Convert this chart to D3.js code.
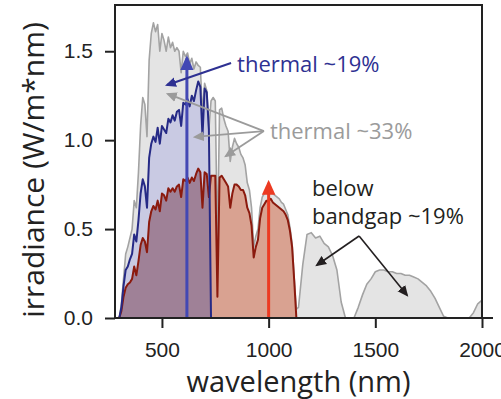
<!DOCTYPE html>
<html lang="en">
<head>
  <meta charset="UTF-8">
  <title>Solar spectrum - thermalisation and sub-bandgap losses</title>
  <script src="https://d3js.org/d3.v7.min.js"></script>
  <style>
    body {
      margin: 0;
      background: #fff;
    }
    svg {
      display: block;
      font-family: "Open Sans", sans-serif;
    }
    .tick text {
      font-size: 21px;
      fill: #222;
    }
    .tick line {
      stroke: #222;
      stroke-width: 2;
    }
    .axis-title {
      fill: #222;
    }
    .note {
      font-size: 22px;
    }
  </style>
</head>
<body>
  <script>
    // wavelength grid (nm): 10 nm steps up to 1140, 20 nm steps after
    const wavelength = [
      300, 310, 320, 330, 340, 350, 360, 370, 380, 390,
      400, 410, 420, 430, 440, 450, 460, 470, 480, 490,
      500, 510, 520, 530, 540, 550, 560, 570, 580, 590,
      600, 610, 620, 630, 640, 650, 660, 670, 680, 690,
      700, 710, 720, 730, 740, 750, 760, 770, 780, 790,
      800, 810, 820, 830, 840, 850, 860, 870, 880, 890,
      900, 910, 920, 930, 940, 950, 960, 970, 980, 990,
      1000, 1010, 1020, 1030, 1040, 1050, 1060, 1070, 1080, 1090,
      1100, 1110, 1120, 1130, 1140,
      1160, 1180, 1200, 1220, 1240, 1260, 1280, 1300, 1320, 1340,
      1360, 1380, 1400, 1420, 1440, 1460, 1480, 1500, 1520, 1540,
      1560, 1580, 1600, 1620, 1640, 1660, 1680, 1700, 1720, 1740,
      1760, 1780, 1800, 1820, 1840, 1860, 1880, 1900, 1920, 1940,
      1960, 1980, 2000
    ];

    // full solar irradiance (gray)
    const solar = [
      0.00, 0.08, 0.22, 0.36, 0.40, 0.45, 0.50, 0.66, 0.62, 0.82,
      1.08, 1.24, 1.20, 1.02, 1.45, 1.60, 1.66, 1.61, 1.65, 1.50,
      1.60, 1.56, 1.50, 1.58, 1.52, 1.55, 1.50, 1.52, 1.50, 1.38,
      1.50, 1.47, 1.49, 1.43, 1.46, 1.40, 1.44, 1.42, 1.41, 1.15,
      1.32, 1.28, 1.06, 1.22, 1.24, 1.22, 0.42, 1.17, 1.18, 1.12,
      1.08, 1.05, 0.88, 0.96, 1.01, 0.98, 0.96, 0.92, 0.90, 0.86,
      0.76, 0.72, 0.62, 0.40, 0.46, 0.50, 0.62, 0.68, 0.70, 0.72,
      0.71, 0.72, 0.70, 0.69, 0.68, 0.67, 0.65, 0.64, 0.61, 0.58,
      0.51, 0.42, 0.22, 0.05, 0.06,
      0.30, 0.47, 0.48, 0.45, 0.46, 0.42, 0.40, 0.35, 0.27, 0.09,
      0.00, 0.00, 0.00, 0.06, 0.13, 0.19, 0.22, 0.26, 0.27, 0.27,
      0.26, 0.26, 0.25, 0.25, 0.24, 0.24, 0.23, 0.22, 0.20, 0.18,
      0.15, 0.11, 0.06, 0.01, 0.00, 0.00, 0.00, 0.00, 0.00, 0.00,
      0.03, 0.08, 0.10
    ];

    // usable part for the wide-gap absorber (blue), 300..730 nm
    const wideGap = [
      0.00, 0.06, 0.18, 0.27, 0.29, 0.33, 0.36, 0.47, 0.43, 0.55,
      0.70, 0.78, 0.74, 0.62, 0.90, 0.98, 1.02, 0.99, 1.07, 0.98,
      1.08, 1.06, 1.04, 1.12, 1.10, 1.14, 1.11, 1.16, 1.17, 1.08,
      1.21, 1.20, 1.23, 1.19, 1.25, 1.22, 1.28, 1.33, 1.30, 1.02,
      1.29, 1.27, 1.06, 0.00
    ];

    // usable part for silicon (red), 300..1130 nm
    const silicon = [
      0.00, 0.04, 0.12, 0.17, 0.19, 0.20, 0.22, 0.29, 0.24, 0.32,
      0.41, 0.45, 0.43, 0.37, 0.54, 0.60, 0.63, 0.61, 0.66, 0.60,
      0.70, 0.69, 0.66, 0.73, 0.71, 0.73, 0.71, 0.74, 0.75, 0.68,
      0.78, 0.77, 0.79, 0.76, 0.79, 0.77, 0.81, 0.84, 0.82, 0.62,
      0.82, 0.81, 0.68, 0.80, 0.80, 0.80, 0.12, 0.79, 0.80, 0.78,
      0.76, 0.74, 0.62, 0.70, 0.75, 0.75, 0.74, 0.72, 0.72, 0.69,
      0.62, 0.59, 0.52, 0.34, 0.40, 0.44, 0.56, 0.62, 0.64, 0.66,
      0.66, 0.67, 0.65, 0.64, 0.63, 0.62, 0.61, 0.60, 0.58, 0.55,
      0.49, 0.40, 0.21, 0.00
    ];

    const xTicks = [500, 1000, 1500, 2000];
    const yTicks = [0.0, 0.5, 1.0, 1.5];
    const wideGapEdge = 725;   // nm
    const arrowBlueNm = 617, arrowBlueTop = 1.46;
    const arrowRedNm = 1000, arrowRedTop = 0.76;

    const W = 501, H = 399;
    const x = d3.scaleLinear().domain([280, 2000]).range([115, 482]);
    const y = d3.scaleLinear().domain([0, 1.76]).range([318, 5]);

    const svg = d3.select("body").append("svg")
      .attr("width", W)
      .attr("height", H);

    const defs = svg.append("defs");
    defs.append("clipPath").attr("id", "wide-clip")
      .append("rect")
      .attr("x", x(280)).attr("y", y(1.76))
      .attr("width", x(wideGapEdge) - x(280))
      .attr("height", y(0) - y(1.76));

    function marker(id, color, size) {
      defs.append("marker")
        .attr("id", id)
        .attr("viewBox", "0 0 10 10")
        .attr("refX", 8).attr("refY", 5)
        .attr("markerUnits", "userSpaceOnUse")
        .attr("markerWidth", size).attr("markerHeight", size)
        .attr("orient", "auto")
        .append("path")
        .attr("d", "M0,0.5 L10,5 L0,9.5 z")
        .attr("fill", color);
    }
    marker("head-navy", "#2e3192", 11);
    marker("head-gray", "#9b9b9b", 11);
    marker("head-black", "#231f20", 11);
    marker("head-blue", "#4348b4", 15);
    marker("head-red", "#ec3a22", 15);

    const pts = arr => arr.map((v, i) => [wavelength[i], v]);

    const area = d3.area()
      .x(d => x(d[0]))
      .y0(y(0))
      .y1(d => y(d[1]));
    const line = d3.line()
      .x(d => x(d[0]))
      .y(d => y(d[1]));

    const solarPts = pts(solar);
    const widePts = pts(wideGap);
    const siPts = pts(silicon);

    // fills
    svg.append("path").attr("d", area(solarPts)).attr("fill", "#e4e4e4");
    svg.append("path").attr("d", area(widePts)).attr("fill", "#c9cae3");
    svg.append("path").attr("d", area(siPts)).attr("fill", "#d9a291");
    svg.append("path").attr("d", area(siPts)).attr("fill", "#9f8197")
      .attr("clip-path", "url(#wide-clip)");

    // outlines
    svg.append("path").attr("d", line(solarPts))
      .attr("fill", "none").attr("stroke", "#a3a3a3").attr("stroke-width", 1.6)
      .attr("stroke-linejoin", "round");
    svg.append("path").attr("d", line(siPts))
      .attr("fill", "none").attr("stroke", "#8b1a0e").attr("stroke-width", 2)
      .attr("stroke-linejoin", "round");
    svg.append("path").attr("d", line(widePts))
      .attr("fill", "none").attr("stroke", "#262a86").attr("stroke-width", 2)
      .attr("stroke-linejoin", "round");

    // vertical arrows
    svg.append("line")
      .attr("x1", x(arrowBlueNm)).attr("x2", x(arrowBlueNm))
      .attr("y1", y(0)).attr("y2", y(arrowBlueTop))
      .attr("stroke", "#4348b4").attr("stroke-width", 3)
      .attr("marker-end", "url(#head-blue)");
    svg.append("line")
      .attr("x1", x(arrowRedNm)).attr("x2", x(arrowRedNm))
      .attr("y1", y(0)).attr("y2", y(arrowRedTop))
      .attr("stroke", "#ec3a22").attr("stroke-width", 3)
      .attr("marker-end", "url(#head-red)");

    // axes
    const xAxis = svg.append("g")
      .attr("transform", `translate(0,${y(0)})`)
      .call(d3.axisBottom(x).tickValues(xTicks).tickFormat(d3.format("d"))
        .tickSize(10).tickPadding(14).tickSizeOuter(0));
    xAxis.select(".domain").remove();

    const yAxis = svg.append("g")
      .attr("transform", `translate(${x(280)},0)`)
      .call(d3.axisLeft(y).tickValues(yTicks).tickFormat(d3.format(".1f"))
        .tickSize(10).tickPadding(12).tickSizeOuter(0));
    yAxis.select(".domain").remove();

    // frame
    svg.append("rect")
      .attr("x", x(280)).attr("y", y(1.76))
      .attr("width", x(2000) - x(280)).attr("height", y(0) - y(1.76))
      .attr("fill", "none").attr("stroke", "#222").attr("stroke-width", 2);
    svg.append("line")
      .attr("x1", x(2000)).attr("x2", x(2000) + 11)
      .attr("y1", y(0)).attr("y2", y(0))
      .attr("stroke", "#222").attr("stroke-width", 2);

    // axis titles
    svg.append("text")
      .attr("class", "axis-title")
      .attr("x", (x(280) + x(2000)) / 2)
      .attr("y", 392)
      .attr("text-anchor", "middle")
      .attr("font-size", 29)
      .text("wavelength (nm)");
    svg.append("text")
      .attr("class", "axis-title")
      .attr("transform", "translate(44,170) rotate(-90)")
      .attr("text-anchor", "middle")
      .attr("font-size", 30)
      .text("irradiance (W/m*nm)");

    // annotations
    function note(txt, nm, val, color) {
      svg.append("text").attr("class", "note")
        .attr("x", x(nm)).attr("y", y(val))
        .attr("fill", color)
        .text(txt);
    }
    function pointer(from, to, color, head, w) {
      svg.append("line")
        .attr("x1", x(from[0])).attr("y1", y(from[1]))
        .attr("x2", x(to[0])).attr("y2", y(to[1]))
        .attr("stroke", color).attr("stroke-width", w)
        .attr("marker-end", `url(#${head})`);
    }

    note("thermal ~19%", 852, 1.383, "#2e3192");
    pointer([824, 1.434], [524, 1.31], "#2e3192", "head-navy", 2);

    note("thermal ~33%", 1006, 1.007, "#9b9b9b");
    pointer([978, 1.051], [528, 1.26], "#9b9b9b", "head-gray", 1.8);
    pointer([978, 1.051], [655, 1.018], "#9b9b9b", "head-gray", 1.8);
    pointer([978, 1.051], [800, 0.911], "#9b9b9b", "head-gray", 1.8);

    note("below", 1203, 0.686, "#231f20");
    note("bandgap ~19%", 1203, 0.529, "#231f20");
    pointer([1424, 0.461], [1227, 0.298], "#231f20", "head-black", 1.6);
    pointer([1424, 0.461], [1648, 0.129], "#231f20", "head-black", 1.6);
  </script>
</body>
</html>
